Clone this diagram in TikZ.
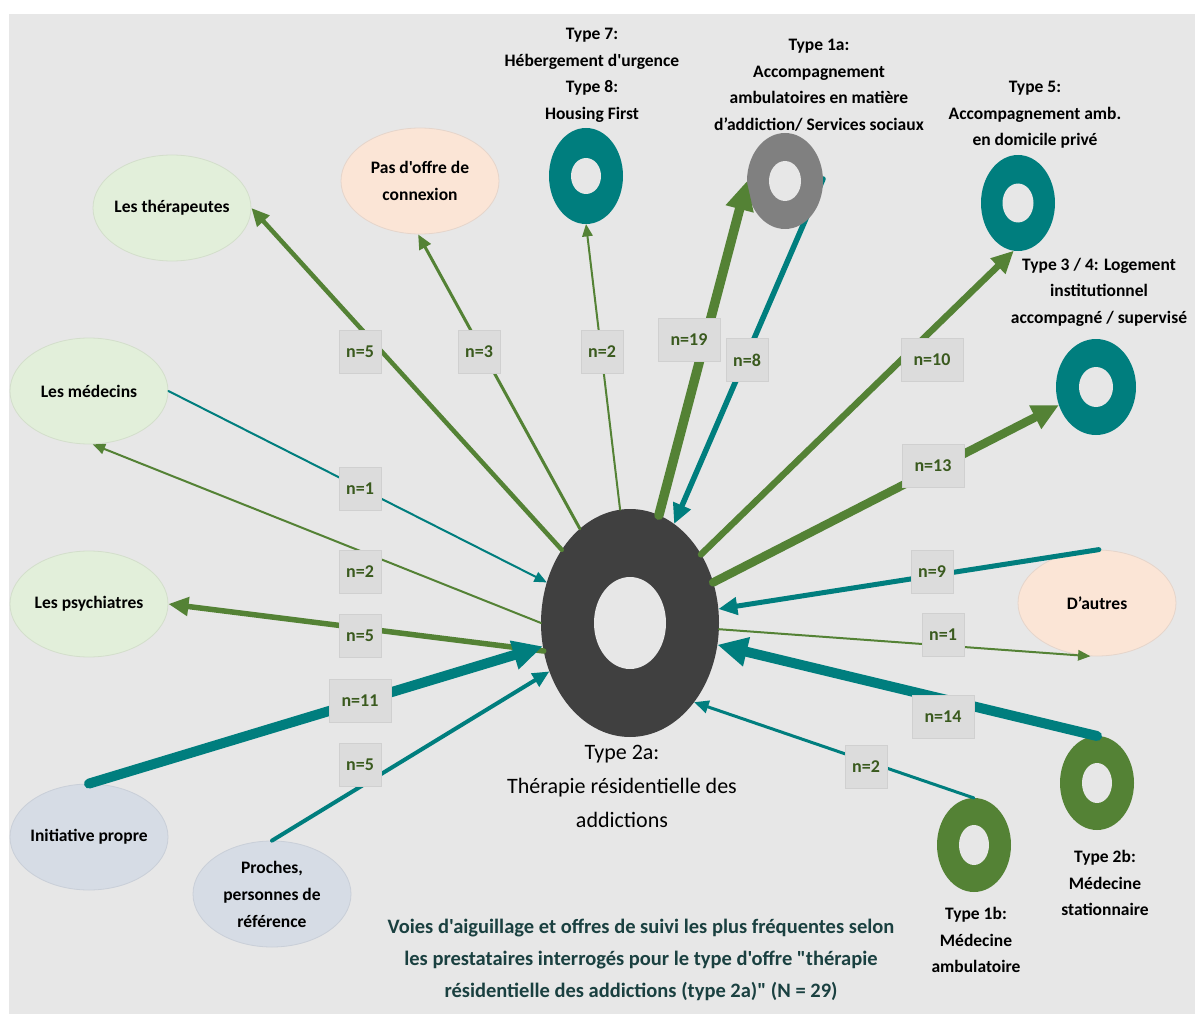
\documentclass[tikz,border=0pt]{standalone}
\usepackage{fontspec}
\setmainfont{Carlito}[Ligatures=TeXOff]
\usetikzlibrary{shapes.geometric,arrows.meta}
\definecolor{bgc}{HTML}{E7E7E7}
\definecolor{gr}{HTML}{548235}
\definecolor{tl}{HTML}{007E7E}
\definecolor{gy}{HTML}{808080}
\definecolor{dk}{HTML}{404040}
\definecolor{lgf}{HTML}{E2EFDA}
\definecolor{lgd}{HTML}{D3DECB}
\definecolor{pcf}{HTML}{FBE5D6}
\definecolor{pcd}{HTML}{E5D5CB}
\definecolor{bgf}{HTML}{D6DCE5}
\definecolor{bgd}{HTML}{C9CFD8}
\definecolor{lbf}{HTML}{DCDCDC}
\definecolor{lbd}{HTML}{D0D0D0}
\definecolor{lbt}{HTML}{3A5A1E}
\definecolor{ttl}{HTML}{1A4040}
\pgfdeclarelayer{back}
\pgfdeclarelayer{under}
\pgfsetlayers{back,under,main}
\begin{document}
\begin{tikzpicture}[x=1pt,y=-1pt,
  oval/.style={ellipse, minimum width=158pt, minimum height=106pt, inner xsep=-30pt, inner ysep=0pt, line width=0.8pt, align=center, font=\fontsize{17.5}{27}\selectfont\bfseries},
  ring/.style={ellipse, inner sep=0pt, outer sep=0pt},
  tlab/.style={align=center, font=\fontsize{17.5}{26.5}\selectfont\bfseries, inner sep=0pt},
  nlab/.style={rectangle, fill=lbf, draw=lbd, line width=0.8pt, text=lbt, minimum height=43pt, minimum width=42pt, inner sep=0pt, font=\fontsize{18}{20}\selectfont\bfseries},
  wide/.style={minimum width=62pt},
  arr/.style={line cap=round, -{Triangle[length=8pt 2.2, width=6pt 2.2]}},
]
\useasboundingbox (0,0) rectangle (1195,1014);
\begin{pgfonlayer}{back}
\fill[white] (0,0) rectangle (1195,1014);
\fill[bgc] (9,14) rectangle (1195,1014);
\end{pgfonlayer}

% central ring
\node[ring, fill=dk, minimum width=178pt, minimum height=228pt] (C) at (630,623) {};
\fill[bgc] (C.center) ellipse [x radius=36pt, y radius=46pt];

% rings
\node[ring, fill=tl, minimum width=74pt, minimum height=96pt] (t78) at (586,176) {};
\fill[bgc] (t78.center) ellipse [x radius=15pt, y radius=18pt];
\node[ring, fill=gy, minimum width=76pt, minimum height=96pt] (t1a) at (785,181) {};
\fill[bgc] (t1a.center) ellipse [x radius=16pt, y radius=20pt];
\node[ring, fill=tl, minimum width=74pt, minimum height=96pt] (t5) at (1018,203) {};
\fill[bgc] (t5.center) ellipse [x radius=15.5pt, y radius=19.5pt];
\node[ring, fill=tl, minimum width=80pt, minimum height=96pt] (t34) at (1096,387) {};
\fill[bgc] (t34.center) ellipse [x radius=17pt, y radius=20pt];
\node[ring, fill=gr, minimum width=74pt, minimum height=94pt] (t2b) at (1097,783) {};
\fill[bgc] (t2b.center) ellipse [x radius=15pt, y radius=20pt];
\node[ring, fill=gr, minimum width=74pt, minimum height=94pt] (t1b) at (974,845) {};
\fill[bgc] (t1b.center) ellipse [x radius=15pt, y radius=20pt];

% ellipses
\node[oval, fill=lgf, draw=lgd] (ther) at (172,208) {Les thérapeutes};
\node[oval, fill=pcf, draw=pcd] (pas) at (420,181) {Pas d'offre de\\connexion};
\node[oval, fill=lgf, draw=lgd] (med) at (89,391) {Les médecins};
\node[oval, fill=lgf, draw=lgd] (psy) at (89,604) {Les psychiatres};
\node[oval, fill=bgf, draw=bgd] (init) at (89,837) {Initiative propre};
\node[oval, fill=bgf, draw=bgd] (proc) at (272,894) {Proches,\\personnes de\\référence};
\node[oval, fill=pcf, draw=pcd] (autres) at (1097,603) {D’autres};

% connectors
\draw[arr, gr, line width=4.5pt] (C.133) -- (ther.0);
\draw[arr, gr, line width=3pt] (C.118) -- (pas.268);
\draw[arr, gr, line width=2pt] (C.95) -- (t78.270);
\draw[arr, gr, line width=9.5pt] (C.75) -- (t1a.180);
\begin{pgfonlayer}{under}
\draw[arr, tl, line width=5.5pt] (t1a.3) -- (C.66);
\end{pgfonlayer}
\draw[arr, gr, line width=6.5pt] (C.44) -- (t5.265);
\draw[arr, gr, line width=8.5pt] (C.26) -- (t34.206);
\draw[arr, tl, line width=5pt] (autres.88) -- (C.9);
\draw[arr, gr, line width=2pt] (C.-4) -- (autres.263);
\draw[arr, tl, line width=10pt] (t2b.90) -- (C.-14);
\draw[arr, tl, line width=3pt] (t1b.90) -- (C.-51);
\draw[arr, tl, line width=2pt] (med.0) -- (C.154);
\draw[arr, gr, line width=2pt] (C.180) -- (med.274);
\draw[arr, gr, line width=5.5pt] (C.198) -- (psy.0);
\draw[arr, tl, line width=10pt] (init.90) -- (C.195);
\draw[arr, tl, line width=4pt] (proc.90) -- (C.211);

% count labels
\node[nlab] (l1) at (360,352) {n=5};
\node[nlab] (l2) at (479,352) {n=3};
\node[nlab] (l3) at (602,352) {n=2};
\node[nlab, wide] (l4) at (689,340) {n=19};
\node[nlab] (l5) at (747,360) {n=8};
\node[nlab, wide] (l6) at (932,360) {n=10};
\node[nlab, wide] (l7) at (933,466) {n=13};
\node[nlab] (l8) at (932,572) {n=9};
\node[nlab] (l9) at (943,635) {n=1};
\node[nlab, wide] (l10) at (943,717) {n=14};
\node[nlab] (l11) at (866,767) {n=2};
\node[nlab] (l12) at (360,489) {n=1};
\node[nlab] (l13) at (360,572) {n=2};
\node[nlab] (l14) at (360,636) {n=5};
\node[nlab, wide] (l15) at (360,701) {n=11};
\node[nlab] (l16) at (360,765) {n=5};

% type labels
\node[tlab] (x78) at (592,75.5) {Type 7:\\Hébergement d'urgence\\Type 8:\\Housing First};
\node[tlab] (x1a) at (819,85) {Type 1a:\\Accompagnement\\ambulatoires en matière\\d’addiction/ Services sociaux};
\node[tlab] (x5) at (1035,115) {Type 5:\\Accompagnement amb.\\en domicile privé};
\node[tlab] (x34) at (1099,292) {Type 3 / 4: Logement\\institutionnel\\accompagné / supervisé};
\node[tlab] (x2b) at (1105,883) {Type 2b:\\Médecine\\stationnaire};
\node[tlab] (x1b) at (976,940) {Type 1b:\\Médecine\\ambulatoire};
\node[align=center, font=\fontsize{22}{34}\selectfont, inner sep=0pt] (x2a) at (622,786) {Type 2a:\\Thérapie résidentielle des\\addictions};
\node[align=center, text=ttl, font=\fontsize{20.5}{32}\selectfont\bfseries, inner sep=0pt] (title) at (641,960) {Voies d'aiguillage et offres de suivi les plus fréquentes selon\\les prestataires interrogés pour le type d'offre "thérapie\\résidentielle des addictions (type 2a)" (N = 29)};
\end{tikzpicture}
\end{document}
